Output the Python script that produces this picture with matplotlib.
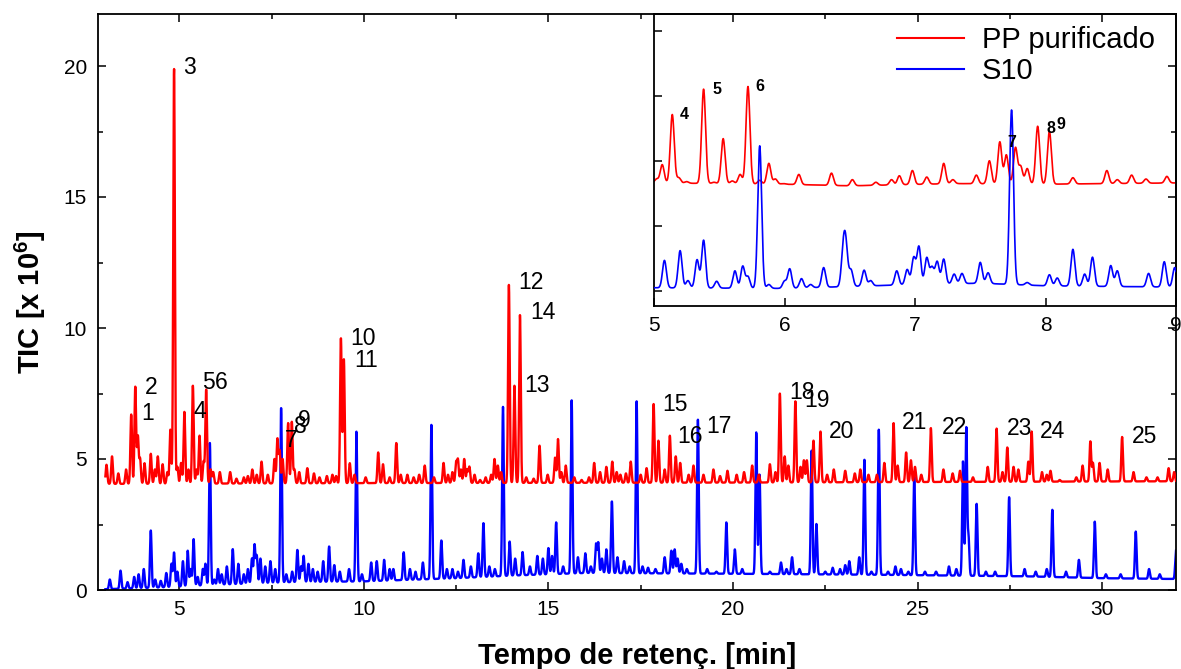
import numpy as np
import matplotlib
matplotlib.use("Agg")
import matplotlib.pyplot as plt
from matplotlib.lines import Line2D
from matplotlib.ticker import MultipleLocator

plt.rcParams['font.family'] = ['Liberation Sans', 'DejaVu Sans']
plt.rcParams['mathtext.fontset'] = 'custom'
plt.rcParams['mathtext.rm'] = 'Liberation Sans'
plt.rcParams['mathtext.bf'] = 'Liberation Sans:bold'

# ---------------- main chromatogram data (retention time [min], TIC [x10^6]) -------------
red_rt = [3.03, 3.18, 3.35, 3.56, 3.70, 3.81, 3.88, 3.94, 4.06, 4.23, 4.34, 4.42, 4.55, 4.68,
          4.76, 4.86, 4.95, 5.05, 5.14, 5.25, 5.37, 5.47, 5.55, 5.66, 5.73, 5.85, 5.92, 6.10,
          6.38, 6.55, 6.75, 6.86, 6.98, 7.10, 7.23, 7.40, 7.58, 7.66, 7.72, 7.80, 7.95, 8.05,
          8.12, 8.25, 8.47, 8.65, 8.80, 9.00, 9.15, 9.25, 9.38, 9.46, 9.62, 9.75, 10.05, 10.39,
          10.52, 10.70, 10.88, 11.00, 11.18, 11.35, 11.50, 11.65, 11.90, 12.16, 12.28, 12.40,
          12.50, 12.55, 12.63, 12.72, 12.80, 12.86, 13.00, 13.15, 13.30, 13.45, 13.54, 13.63,
          13.72, 13.93, 14.08, 14.23, 14.40, 14.60, 14.76, 14.98, 15.18, 15.26, 15.35, 15.47,
          15.70, 15.90, 16.10, 16.24, 16.40, 16.57, 16.73, 16.85, 16.95, 17.10, 17.23, 17.50,
          17.66, 17.85, 17.98, 18.15, 18.29, 18.45, 18.57, 18.80, 18.93, 19.20, 19.47, 19.65,
          19.85, 20.10, 20.30, 20.52, 20.70, 21.00, 21.15, 21.27, 21.40, 21.50, 21.69, 21.83,
          21.92, 22.00, 22.18, 22.37, 22.55, 22.73, 23.04, 23.30, 23.45, 23.67, 23.90, 24.10,
          24.35, 24.46, 24.69, 24.82, 24.93, 25.10, 25.36, 25.70, 25.95, 26.15, 26.50, 26.90,
          27.14, 27.30, 27.43, 27.60, 27.73, 28.00, 28.09, 28.37, 28.50, 28.60, 28.85, 29.30,
          29.47, 29.68, 29.75, 29.93, 30.15, 30.54, 30.85, 31.20, 31.50, 31.80, 31.95]
red_h = [4.78, 5.10, 4.45, 4.60, 6.70, 7.75, 5.86, 5.00, 4.84, 5.20, 4.60, 5.10, 4.80, 4.50,
         6.12, 19.90, 4.70, 4.85, 6.80, 4.60, 7.80, 4.60, 5.89, 4.90, 7.65, 4.60, 4.50, 4.50,
         4.50, 4.25, 4.30, 4.35, 4.60, 4.40, 4.90, 4.40, 5.00, 5.76, 5.30, 5.00, 6.37, 6.42,
         4.60, 4.50, 4.65, 4.45, 4.30, 4.35, 4.40, 4.35, 9.60, 8.80, 4.84, 4.40, 4.30, 5.25,
         4.80, 4.30, 5.61, 4.40, 4.40, 4.30, 4.40, 4.75, 4.30, 4.85, 4.40, 4.50,
         4.85, 4.95, 4.60, 5.00, 4.60, 4.70, 4.40, 4.20, 4.30, 4.40, 5.00, 4.75,
         4.50, 11.65, 7.80, 10.50, 4.30, 4.25, 5.51, 4.40, 5.05, 5.76, 4.50, 4.75,
         4.30, 4.20, 4.30, 4.85, 4.50, 4.70, 4.90, 4.50, 4.40, 4.45, 4.90, 4.40,
         4.65, 7.10, 5.70, 4.60, 5.89, 5.10, 4.85, 4.40, 4.75, 4.40, 4.60, 4.35,
         4.55, 4.40, 4.50, 4.75, 4.40, 4.80, 4.50, 7.50, 5.10, 4.75, 7.20, 4.70,
         4.95, 4.95, 5.70, 6.05, 4.40, 4.60, 4.55, 4.45, 4.60, 4.40, 4.40, 4.85,
         6.37, 4.75, 5.25, 4.95, 4.70, 4.40, 6.18, 4.60, 4.45, 4.55, 4.30, 4.70,
         6.16, 4.50, 5.44, 4.70, 4.60, 4.90, 6.05, 4.50, 4.40, 4.55, 4.20, 4.30,
         4.75, 5.67, 4.85, 4.85, 4.60, 5.84, 4.50, 4.30, 4.30, 4.65, 4.50]
red_base_t = [3.0, 10.0, 20.0, 32.0]
red_base_v = [4.05, 4.08, 4.10, 4.15]

blue_rt = [3.12, 3.41, 3.60, 3.78, 3.90, 4.04, 4.23, 4.35, 4.50, 4.65, 4.79, 4.86, 4.95, 5.10,
           5.23, 5.31, 5.39, 5.50, 5.64, 5.71, 5.83, 5.95, 6.05, 6.15, 6.29, 6.45, 6.60, 6.75,
           6.86, 6.97, 7.04, 7.10, 7.20, 7.33, 7.47, 7.60, 7.76, 7.90, 8.06, 8.20, 8.30, 8.37,
           8.50, 8.62, 8.75, 8.90, 9.06, 9.20, 9.35, 9.60, 9.80, 9.95, 10.20, 10.35, 10.55,
           10.70, 10.80, 11.08, 11.25, 11.40, 11.60, 11.83, 12.10, 12.25, 12.40, 12.55, 12.70,
           12.90, 13.10, 13.24, 13.40, 13.55, 13.77, 13.95, 14.10, 14.30, 14.50, 14.70, 14.85,
           15.00, 15.10, 15.21, 15.40, 15.63, 15.80, 16.00, 16.15, 16.29, 16.35, 16.45, 16.57,
           16.72, 16.87, 17.05, 17.20, 17.39, 17.55, 17.70, 17.90, 18.15, 18.33, 18.42, 18.50,
           18.60, 18.75, 19.05, 19.30, 19.55, 19.82, 20.05, 20.25, 20.63, 20.72, 21.00, 21.30,
           21.45, 21.60, 21.80, 22.13, 22.26, 22.50, 22.70, 22.90, 23.04, 23.15, 23.42, 23.56,
           23.75, 23.95, 24.20, 24.40, 24.55, 24.75, 24.91, 25.20, 25.50, 25.85, 26.05, 26.23,
           26.32, 26.38, 26.60, 26.85, 27.10, 27.48, 27.90, 28.20, 28.50, 28.65, 29.02, 29.37,
           29.80, 30.10, 30.50, 30.91, 31.27, 31.56, 32.00]
blue_h = [0.40, 0.74, 0.30, 0.50, 0.60, 0.80, 2.27, 0.40, 0.35, 0.65, 1.00, 1.43, 0.70, 1.10,
          1.50, 0.80, 1.94, 0.50, 0.80, 1.00, 5.61, 0.40, 0.80, 0.60, 0.90, 1.56, 1.00, 0.60,
          0.80, 1.20, 1.72, 1.30, 1.20, 0.90, 1.10, 0.80, 6.95, 0.60, 0.70, 1.53, 0.90, 1.30,
          1.00, 0.80, 0.70, 1.10, 1.66, 0.95, 0.70, 0.80, 6.05, 0.60, 1.05, 1.10, 1.15,
          0.80, 0.80, 1.44, 0.80, 0.70, 1.05, 6.31, 1.89, 0.80, 0.80, 0.70, 1.15,
          0.90, 1.40, 2.55, 0.90, 0.80, 6.99, 1.85, 1.20, 1.45, 0.90, 1.30, 1.20,
          1.60, 1.30, 2.58, 0.90, 7.24, 1.25, 1.40, 0.90, 1.75, 1.80, 1.20, 1.55,
          3.38, 1.25, 1.10, 0.90, 7.20, 0.90, 0.85, 0.80, 1.25, 1.50, 1.55, 1.20,
          1.00, 0.80, 6.50, 0.80, 0.70, 2.58, 1.55, 0.80, 6.02, 4.40, 0.70, 1.05,
          0.80, 1.25, 0.80, 5.32, 2.52, 0.70, 0.85, 0.80, 0.95, 1.10, 1.25, 4.97,
          0.70, 6.12, 0.70, 0.90, 0.80, 0.70, 4.33, 0.70, 0.70, 0.90, 0.80, 4.91,
          6.18, 2.00, 3.29, 0.70, 0.70, 3.54, 0.80, 0.70, 0.80, 3.06, 0.70, 1.15,
          2.61, 0.60, 0.60, 2.23, 0.80, 0.60, 1.50]
blue_base_t = [3.0, 4.5, 6.0, 8.0, 10.0, 12.5, 14.0, 16.0, 20.0, 24.0, 28.0, 30.0, 32.0]
blue_base_v = [0.03, 0.10, 0.20, 0.30, 0.33, 0.45, 0.55, 0.65, 0.62, 0.58, 0.52, 0.45, 0.42]

peak_labels = ["1", "2", "3", "4", "5", "6", "7", "8", "9", "10", "11", "12", "13", "14",
               "15", "16", "17", "18", "19", "20", "21", "22", "23", "24", "25"]
label_t = [4.14, 4.23, 5.27, 5.57, 5.80, 6.13, 8.03, 8.27, 8.40, 9.97, 10.05, 14.54, 14.68,
           14.84, 18.43, 18.84, 19.62, 21.86, 22.27, 22.95, 24.92, 26.00, 27.76, 28.65, 31.16]
label_y = [6.72, 7.74, 19.96, 6.83, 7.92, 7.92, 5.70, 6.23, 6.46, 9.60, 8.76, 11.74, 7.80,
           10.59, 7.07, 5.85, 6.23, 7.53, 7.23, 6.04, 6.39, 6.20, 6.16, 6.04, 5.85]

# ---------------- inset (zoom 5-9 min, arbitrary units) -------------
in_red_rt = [5.02, 5.063, 5.14, 5.19, 5.25, 5.38, 5.46, 5.53, 5.60, 5.66, 5.72, 5.81, 5.88,
             5.93, 5.99, 6.11, 6.36, 6.52, 6.70, 6.82, 6.88, 6.98, 7.09, 7.22, 7.29, 7.47,
             7.57, 7.65, 7.70, 7.77, 7.81, 7.86, 7.94, 8.03, 8.21, 8.47, 8.55, 8.66, 8.77, 8.93]
in_red_v = [1.72, 1.94, 2.71, 1.74, 1.68, 3.10, 1.67, 2.34, 1.69, 1.79, 3.14, 1.70, 1.96,
            1.72, 1.65, 1.79, 1.81, 1.71, 1.67, 1.71, 1.77, 1.85, 1.75, 1.96, 1.71, 1.78,
            2.00, 2.29, 2.09, 2.20, 1.91, 1.88, 2.53, 2.45, 1.74, 1.85, 1.71, 1.78, 1.72, 1.76]
in_red_base_t = [5.0, 6.0, 6.5, 7.3, 8.0, 9.0]
in_red_base_v = [1.66, 1.64, 1.615, 1.65, 1.64, 1.66]

in_blue_rt = [5.08, 5.20, 5.26, 5.33, 5.38, 5.48, 5.62, 5.68, 5.72, 5.81, 5.88, 6.00, 6.04,
              6.13, 6.20, 6.30, 6.45, 6.47, 6.51, 6.61, 6.66, 6.86, 6.94, 6.99, 7.03, 7.09,
              7.13, 7.17, 7.22, 7.30, 7.36, 7.50, 7.56, 7.74, 7.86, 8.03, 8.09, 8.21, 8.30,
              8.36, 8.50, 8.55, 8.79, 8.91, 8.99]
in_blue_v = [0.47, 0.62, 0.16, 0.48, 0.78, 0.15, 0.31, 0.38, 0.22, 2.23, 0.10, 0.15, 0.34,
             0.19, 0.10, 0.36, 0.57, 0.64, 0.32, 0.32, 0.16, 0.31, 0.33, 0.51, 0.68, 0.51,
             0.36, 0.45, 0.49, 0.26, 0.27, 0.44, 0.28, 2.78, 0.13, 0.25, 0.20, 0.64, 0.26,
             0.52, 0.39, 0.31, 0.27, 0.45, 0.36]
in_blue_base_t = [5.0, 6.0, 7.0, 7.5, 8.0, 9.0]
in_blue_base_v = [0.05, 0.04, 0.10, 0.12, 0.08, 0.06]

in_labels = ["4", "5", "6", "7", "8", "9"]
in_label_t = [5.23, 5.48, 5.81, 7.74, 8.04, 8.12]
in_label_v = [2.71, 3.10, 3.14, 2.28, 2.49, 2.56]

series_names = ["PP purificado", "S10"]
RED = "#FF0000"
BLUE = "#0000FF"


def build_trace(t, rt, h, bt, bv, sigma):
    base = np.interp(t, bt, bv)
    y = base.copy()
    for r, hh in zip(rt, h):
        amp = hh - np.interp(r, bt, bv)
        y += amp * np.exp(-0.5 * ((t - r) / sigma) ** 2)
    return y


W, H = 1181, 669
fig = plt.figure(figsize=(W / 100, H / 100), dpi=100)

# main axes
L, R, T, B = 98, 1176, 13.6, 590
ax = fig.add_axes([L / W, 1 - B / H, (R - L) / W, (B - T) / H])
t = np.linspace(3.0, 32.0, 12000)
ax.plot(t, build_trace(t, blue_rt, blue_h, blue_base_t, blue_base_v, 0.022),
        color=BLUE, lw=1.7, zorder=2)
ax.plot(t, build_trace(t, red_rt, red_h, red_base_t, red_base_v, 0.022),
        color=RED, lw=1.7, zorder=3)
ax.set_xlim(2.8, 32)
ax.set_ylim(0, 22)
ax.xaxis.set_major_locator(MultipleLocator(5))
ax.xaxis.set_minor_locator(MultipleLocator(2.5))
ax.yaxis.set_major_locator(MultipleLocator(5))
ax.yaxis.set_minor_locator(MultipleLocator(2.5))
ax.tick_params(which='both', direction='in', top=True, right=True, width=1.1)
ax.tick_params(which='major', length=6, labelsize=15)
ax.tick_params(which='minor', length=3.5)
ax.tick_params(axis='x', which='major', pad=7)
ax.tick_params(axis='y', which='major', pad=8)
for s in ax.spines.values():
    s.set_linewidth(1.3)
ax.set_xlabel("Tempo de retenç. [min]", fontsize=21, fontweight='bold', labelpad=17)
ax.set_ylabel(r"TIC [x 10$^{\mathbf{6}}$]", fontsize=21, fontweight='bold', labelpad=11)

for txt, x, y in zip(peak_labels, label_t, label_y):
    ax.text(x, y, txt, fontsize=16.5, ha='center', va='center', zorder=5)

# inset axes
iL, iR, iT, iB = 654, 1176, 13.6, 306
axi = fig.add_axes([iL / W, 1 - iB / H, (iR - iL) / W, (iB - iT) / H])
axi.set_facecolor('none')
ti = np.linspace(5.0, 9.0, 4000)
axi.plot(ti, build_trace(ti, in_red_rt, in_red_v, in_red_base_t, in_red_base_v, 0.015),
         color=RED, lw=1.2, zorder=2)
axi.plot(ti, build_trace(ti, in_blue_rt, in_blue_v, in_blue_base_t, in_blue_base_v, 0.015),
         color=BLUE, lw=1.2, zorder=3)
axi.set_xlim(5, 9)
axi.set_ylim(-0.23, 4.26)
axi.set_xticks([5, 6, 7, 8, 9])
axi.set_yticks([0, 1, 2, 3, 4])
axi.set_yticklabels([])
axi.tick_params(direction='in', length=6, width=1.1, labelsize=15, pad=7)
for s in axi.spines.values():
    s.set_linewidth(1.3)
for txt, x, y in zip(in_labels, in_label_t, in_label_v):
    axi.text(x, y, txt, fontsize=11.5, fontweight='bold', ha='center', va='center', zorder=5)

handles = [Line2D([], [], color=RED, lw=1.5), Line2D([], [], color=BLUE, lw=1.5)]
fig.legend(handles, series_names, loc='upper left', bbox_to_anchor=(897 / W, 1 - 26 / H),
           frameon=False, fontsize=21, handlelength=2.3, handletextpad=0.6,
           labelspacing=0.1, borderpad=0, borderaxespad=0)

fig.savefig("out.png", dpi=100)
